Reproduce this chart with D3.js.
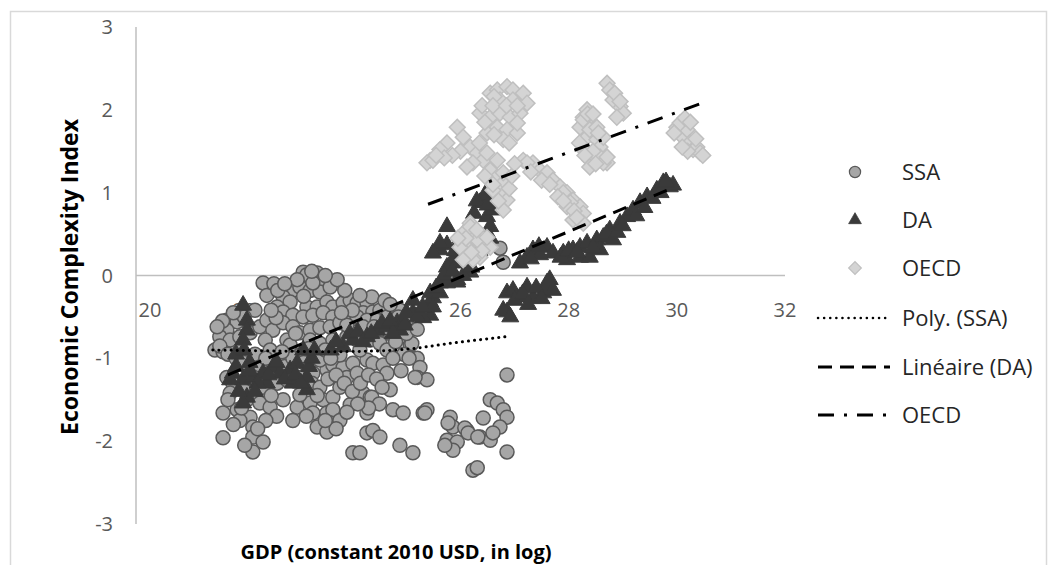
<!DOCTYPE html>
<html><head><meta charset="utf-8">
<script src="https://cdn.jsdelivr.net/npm/d3@7"></script>
<style>body{margin:0;background:#fff}svg{display:block}text{font-family:"Open Sans",Lato,sans-serif}</style>
</head><body>
<svg id="c" width="1056" height="565"></svg>
<script>
// ---- data (x = GDP log, y = ECI) ----
const xTicks = [20, 22, 24, 26, 28, 30, 32];
const yTicks = [-3, -2, -1, 0, 1, 2, 3];
const ssa = [
[22.35,-0.09],[22.42,-0.24],[23.09,0.04],[23.16,0.01],[23.35,0.03],[23.46,-0.05],[22.90,-0.18],[23.03,-0.14],[23.22,-0.18],[23.40,-0.20],[23.59,-0.14],
[22.72,-0.26],[22.85,-0.32],[23.16,-0.38],[23.35,-0.38],[23.53,-0.32],[23.64,-0.38],[22.61,-0.38],[22.72,-0.44],[22.90,-0.48],[23.09,-0.50],[23.27,-0.48],
[23.46,-0.45],[23.64,-0.50],[23.83,-0.33],[23.96,-0.30],[24.09,-0.33],[24.27,-0.33],[24.36,-0.26],[24.20,-0.45],[24.38,-0.44],[24.51,-0.42],
[21.68,-0.54],[21.87,-0.56],[21.68,-0.66],[21.55,-0.74],[21.74,-0.78],[21.92,-0.74],[22.11,-0.69],[22.29,-0.62],[22.42,-0.54],[22.53,-0.66],[21.46,-0.90],
[21.61,-0.92],[22.39,-0.78],[22.48,-0.90],[22.72,-0.57],[22.90,-0.62],[23.03,-0.69],[23.22,-0.66],[23.40,-0.63],[23.59,-0.62],[23.77,-0.57],[23.96,-0.54],
[24.09,-0.50],[24.27,-0.54],[24.46,-0.54],[24.64,-0.50],[24.83,-0.57],[22.79,-0.78],[23.22,-0.78],[23.40,-0.82],[23.64,-0.78],[23.90,-0.74],[24.09,-0.78],
[24.33,-0.78],[24.51,-0.82],[24.64,-0.90],[25.07,-0.84],[25.20,-1.00],[25.25,-1.11],[25.20,-1.23],[25.38,-1.26],[21.68,-1.23],[21.79,-1.30],[21.98,-1.35],
[22.16,-1.26],[22.35,-1.35],[22.61,-1.30],[22.79,-1.26],[23.03,-1.23],[23.27,-1.18],[23.53,-1.14],[23.64,-1.08],[23.83,-1.11],[24.01,-1.06],[24.27,-1.02],
[24.38,-1.06],[24.57,-1.08],[24.64,-1.18],[21.74,-1.42],[22.05,-1.50],[22.29,-1.54],[22.48,-1.59],[22.72,-1.50],[22.98,-1.59],[23.22,-1.54],[23.46,-1.50],
[23.64,-1.47],[23.77,-1.35],[23.90,-1.23],[24.09,-1.18],[24.20,-1.42],[24.33,-1.47],[21.61,-1.66],[21.87,-1.62],[22.11,-1.71],[22.16,-1.83],[23.27,-1.66],
[23.53,-1.66],[23.64,-1.62],[23.35,-1.83],[23.59,-1.78],[23.53,-1.89],[21.61,-1.96],[22.16,-1.95],[22.35,-2.01],[22.16,-2.13],[24.27,-1.66],[24.27,-1.90],
[24.38,-1.87],[24.51,-1.95],[24.01,-2.14],[24.14,-2.14],[24.75,-1.62],[24.94,-1.66],[24.88,-2.05],[25.12,-2.14],[25.31,-1.66],[25.38,-1.62],[25.81,-1.71],
[25.86,-1.83],[25.75,-1.99],[25.94,-2.01],[25.86,-2.11],[26.12,-1.87],[26.36,-1.95],[26.55,-1.99],[26.42,-1.72],[26.55,-1.50],[26.68,-1.54],[26.79,-1.62],
[26.86,-1.71],[26.73,-1.83],[26.60,-1.90],[26.86,-1.20],[26.86,-2.13],[26.23,-2.35],[26.31,-2.32],[26.73,0.33],[26.79,0.16],
[25.10,-0.82],[24.36,-1.47],[25.34,-1.66],[26.08,-1.84],[26.14,-1.90],[26.32,-1.95],[25.71,-2.05],[25.77,-1.78],[25.16,-1.23],
[21.92,-0.90],[22.11,-1.02],[22.66,-1.02],[23.03,-0.96],[23.40,-1.02],[23.77,-0.96],[24.14,-0.90],[22.85,-0.84],[22.29,-1.08],[23.03,-1.44],[21.92,-1.75],
[22.01,-2.05],[23.77,-1.75],[23.96,-1.56],[24.70,-1.38],[24.79,-0.66],[24.88,-0.42],[24.60,-0.30],[24.14,-0.24],[23.86,-0.18],[23.72,-0.05],[23.27,-0.09],
[22.98,-0.05],[22.59,-0.51],
[22.55,-0.10],[22.62,-0.18],[22.50,-0.42],[22.20,-0.42],[22.00,-0.50],[21.80,-0.45],[21.60,-0.55],[21.50,-0.62],[21.55,-0.85],[21.70,-0.95],[21.85,-1.00],
[22.00,-1.05],[22.20,-0.95],[22.40,-1.00],[22.55,-1.15],[22.75,-1.10],[22.90,-1.00],[23.10,-1.05],[23.25,-1.30],[23.40,-1.35],[23.55,-1.25],[23.70,-1.20],
[23.85,-1.30],[24.00,-1.40],[24.15,-1.30],[24.30,-1.20],[24.45,-1.25],[24.55,-1.35],[24.50,-1.55],[24.30,-1.60],[24.10,-1.55],[23.90,-1.65],[23.70,-1.85],
[23.50,-1.75],[23.15,-1.70],[22.90,-1.75],[22.60,-1.70],[22.40,-1.75],[22.25,-1.85],[21.80,-1.80],[21.70,-1.50],[21.95,-1.60],[22.50,-1.45],[23.35,-1.45],
[23.90,-0.60],[24.00,-0.42],[24.20,-0.62],[24.40,-0.62],[24.55,-0.65],[24.70,-0.70],[24.80,-0.80],[25.00,-0.70],[24.95,-0.95],[24.75,-1.00],[24.90,-1.15],
[25.05,-1.00],[23.50,-0.90],[23.60,-1.00],[23.20,-0.88],[22.70,-0.92],[22.95,-0.70],[23.80,-0.45],[23.50,0.00],[23.25,0.05],[23.10,-0.25],[22.75,-0.10],
[24.70,-0.35],[24.85,-0.50],[25.00,-0.55],[25.20,-0.65]
];
const da = [
[21.98,-0.36],[22.05,-0.54],[22.05,-0.66],[21.98,-0.78],[21.79,-1.18],[21.98,-1.26],[22.16,-1.23],[22.35,-1.18],[22.53,-1.11],[22.66,-1.18],[22.85,-1.14],
[22.98,-1.06],[23.09,-0.90],[23.16,-1.23],[23.16,-1.38],[22.90,-1.30],[22.05,-1.47],[21.98,-1.54],[21.74,-1.26],[22.42,-1.30],[23.83,-0.86],[24.01,-0.78],
[24.27,-0.74],[24.46,-0.66],[24.64,-0.62],[24.83,-0.57],[24.94,-0.54],[25.12,-0.45],[24.88,-0.66],[25.44,-0.32],[25.49,-0.27],[25.44,-0.48],[25.12,-0.30],
[25.62,-0.09],[25.94,-0.08],[26.18,0.04],[25.62,0.31],[25.75,0.37],[26.86,-0.21],[26.97,-0.18],[27.10,-0.26],[27.34,-0.27],[27.53,-0.21],[27.60,-0.09],
[26.86,-0.44],[25.75,0.59],[25.62,0.39],[25.86,0.19],[26.36,0.88],[26.49,0.71],[26.60,0.79],[26.55,0.59],[25.75,-0.09],[25.94,-0.05],[27.23,-0.14],
[27.60,-0.14],[27.71,-0.18],[26.79,-0.42],[26.92,-0.50],[27.23,0.22],[27.34,0.31],[27.60,0.34],[27.71,0.27],[27.90,0.27],[27.97,0.19],[28.08,0.31],
[28.21,0.34],[28.34,0.39],[28.52,0.43],[28.64,0.46],[28.76,0.55],[28.95,0.63],[29.08,0.71],[29.19,0.79],[29.32,0.88],[29.45,0.95],[29.63,1.03],
[29.75,1.12],[29.87,1.07],[29.93,1.09],[28.21,0.22],[28.39,0.22],[28.58,0.31],[28.82,0.43],[25.49,0.27],[25.75,0.10],[25.94,0.15],[25.44,-0.21],
[25.49,-0.38],[25.62,-0.21],[25.31,-0.51],[24.97,-0.60],[26.45,0.97],[27.47,0.25],
[21.85,-1.10],[22.10,-1.15],[22.25,-1.30],[22.45,-1.20],[22.60,-1.05],[22.75,-1.25],[22.95,-1.20],[23.05,-1.30],[23.20,-1.10],[21.90,-1.40],[22.20,-1.40],
[21.85,-0.95],[22.00,-0.90],[22.10,-1.05],[23.25,-1.00],[23.30,-0.90],
[23.60,-0.90],[23.70,-0.80],[23.95,-0.70],[24.10,-0.68],[24.20,-0.80],[24.35,-0.70],[24.55,-0.58],[24.70,-0.55],[24.75,-0.70],[25.00,-0.45],[25.20,-0.50],
[25.30,-0.38],[25.55,-0.15],[25.70,0.00],[25.85,0.05],[26.05,0.00],[26.20,0.10],[25.90,0.30],[26.00,0.45],[26.10,0.55],[26.25,0.75],[26.30,0.90],
[26.50,0.85],[26.55,0.45],[26.35,0.30],
[27.10,0.15],[27.30,0.20],[27.45,0.35],[27.85,0.22],[28.00,0.30],[28.15,0.28],[28.45,0.33],[28.70,0.50],[28.90,0.52],[29.00,0.60],[29.25,0.72],
[29.40,0.82],[29.55,0.93],[29.70,1.00],[29.80,1.13],[27.00,-0.30],[27.15,-0.22],[27.40,-0.15],[27.50,-0.28],[27.65,-0.05],[27.25,-0.35]
];
const oecd = [
[26.55,2.20],[26.68,2.24],[26.86,2.28],[26.97,2.24],[27.16,2.20],[26.73,2.12],[26.97,2.12],[27.23,2.08],[26.36,1.96],[26.55,1.91],[26.73,1.96],
[26.92,1.91],[27.10,1.96],[26.68,1.79],[26.86,1.76],[27.05,1.72],[26.79,1.64],[26.49,1.72],[25.94,1.79],[26.05,1.67],[25.75,1.60],[25.62,1.52],
[25.44,1.39],[25.38,1.36],[25.49,1.39],[26.18,1.55],[26.31,1.48],[26.42,1.39],[26.23,1.36],[26.12,1.31],[26.55,1.27],[26.68,1.19],[26.79,1.12],
[26.73,1.00],[26.60,1.03],[26.86,0.91],[26.79,0.79],[27.16,1.39],[27.34,1.36],[27.47,1.27],[27.60,1.24],[27.71,1.15],[27.84,1.07],[27.97,1.00],
[28.08,0.91],[28.21,0.83],[28.27,0.75],[28.03,0.88],[28.08,0.67],[28.27,0.63],[26.18,0.63],[26.05,0.51],[26.23,0.46],[26.36,0.39],[26.12,0.34],
[26.36,0.22],[26.55,0.34],[26.23,0.19],[26.18,0.59],[26.31,0.43],[25.99,0.34],[26.49,0.46],[26.05,0.19],
[28.27,1.91],[28.34,2.00],[28.39,1.84],[28.45,1.76],[28.34,1.67],[28.52,1.64],[28.58,1.55],[28.27,1.52],[28.39,1.39],[28.58,1.43],[28.71,1.36],
[28.64,1.36],[28.21,1.79],[28.27,1.88],[28.39,1.76],[28.52,1.79],[28.64,1.67],[28.39,1.31],[28.71,1.43],[28.71,2.32],[28.76,2.24],[28.86,2.12],
[28.95,2.04],[29.01,1.96],[28.89,1.91],[28.82,2.12],
[30.00,1.79],[30.11,1.67],[30.19,1.76],[30.24,1.60],[30.30,1.52],[30.37,1.55],[30.43,1.48],[30.06,1.84],[30.48,1.45],[30.15,1.90],
[26.62,2.16],[27.05,1.84],[27.23,1.36],[27.90,1.00],[27.97,0.83],[26.68,1.39],[26.49,1.48],[26.79,1.24],
[26.40,2.05],[26.60,2.05],[26.85,2.05],[27.05,2.05],[26.45,1.85],[26.62,1.70],[26.90,1.60],[26.35,1.60],[26.00,1.50],[25.85,1.45],[25.70,1.42],
[25.55,1.45],[26.45,1.20],[26.60,1.10],[26.70,0.90],[26.90,1.05],[26.95,1.20],[27.00,1.35],[27.30,1.25],[27.50,1.15],[27.65,1.10],[27.80,0.95],
[27.90,0.90],[28.10,0.78],[28.15,0.70],[26.30,0.55],[26.10,0.45],[26.40,0.30],[26.20,0.28],[25.95,0.45],[28.35,1.95],[28.45,1.95],[28.55,1.72],
[28.45,1.50],[28.50,1.35],[28.30,1.45],[28.20,1.60],[28.85,2.20],[28.95,2.10],[30.20,1.50],[30.35,1.65],[30.10,1.55],[30.25,1.85],[29.95,1.72]
];
// trend lines
const polySSAx = [21.42, 22.5, 23.5, 24.5, 25.0, 25.8, 26.82];
const polySSAy = [-0.90, -0.91, -0.92, -0.91, -0.89, -0.82, -0.74];
const linDAx = [21.7, 29.93];
const linDAy = [-1.20, 1.06];
const trendOECDx = [25.4, 30.46];
const trendOECDy = [0.86, 2.08];
const legendLabels = ["SSA", "DA", "OECD", "Poly. (SSA)", "Linéaire (DA)", "OECD"];

// ---- drawing ----
const svg = d3.select("#c");
const x = d3.scaleLinear().domain([20, 32]).range([136, 785]);
const y = d3.scaleLinear().domain([-3, 3]).range([524, 27]);

svg.append("rect").attr("x", 10.5).attr("y", 11.5).attr("width", 1036).attr("height", 600)
  .attr("fill", "none").attr("stroke", "#D9D9D9").attr("stroke-width", 1.5);

// axes lines
svg.append("line").attr("x1", x(20)).attr("x2", x(20)).attr("y1", y(3)).attr("y2", y(-3))
  .attr("stroke", "#BFBFBF").attr("stroke-width", 1.5);
svg.append("line").attr("x1", x(20)).attr("x2", x(32)).attr("y1", y(0)).attr("y2", y(0))
  .attr("stroke", "#BFBFBF").attr("stroke-width", 1.5);

// tick labels
svg.append("g").selectAll("text").data(yTicks).join("text")
  .attr("x", 113).attr("y", d => y(d)).attr("dy", "0.35em").attr("text-anchor", "end")
  .attr("fill", "#595959").attr("font-size", 20).text(d => d);
svg.append("g").selectAll("text").data(xTicks).join("text")
  .attr("x", d => x(d) + (d === 20 ? 14 : 0)).attr("y", y(0) + 41).attr("text-anchor", "middle")
  .attr("fill", "#595959").attr("font-size", 20).text(d => d);

// titles
svg.append("text").attr("transform", "translate(78,277) rotate(-90)").attr("text-anchor", "middle")
  .attr("font-weight", "bold").attr("font-size", 23).attr("fill", "#000").text("Economic Complexity Index");
svg.append("text").attr("x", 396).attr("y", 559).attr("text-anchor", "middle")
  .attr("font-weight", "bold").attr("font-size", 20).attr("fill", "#000").text("GDP (constant 2010 USD, in log)");

const circleSym = d3.symbol().type(d3.symbolCircle).size(Math.PI * 7 * 7)();
const triSym = d3.symbol().type(d3.symbolTriangle).size(125)();
const diaSym = d3.symbol().type(d3.symbolSquare).size(125)();

const styles = {
  ssa: {path: circleSym, fill: "#A6A6A6", stroke: "#595959", sw: 1.5, rot: 0},
  da: {path: triSym, fill: "#3A3A3A", stroke: "#3A3A3A", sw: 1, rot: 0},
  oecd: {path: diaSym, fill: "#D4D4D4", stroke: "#BFBFBF", sw: 1.5, rot: 45}
};
function drawSeries(data, st) {
  svg.append("g").selectAll("path").data(data).join("path")
    .attr("d", st.path)
    .attr("transform", d => `translate(${x(d[0])},${y(d[1])}) rotate(${st.rot})`)
    .attr("fill", st.fill).attr("stroke", st.stroke).attr("stroke-width", st.sw);
}
drawSeries(ssa, styles.ssa);
drawSeries(da, styles.da);
drawSeries(oecd, styles.oecd);

// trend lines
const lineGen = d3.line().x(d => x(d[0])).y(d => y(d[1]));
const polyPts = polySSAx.map((v, i) => [v, polySSAy[i]]);
svg.append("path").attr("d", lineGen.curve(d3.curveMonotoneX)(polyPts)).attr("fill", "none")
  .attr("stroke", "#000").attr("stroke-width", 3).attr("stroke-dasharray", "0.1 6").attr("stroke-linecap", "round");
svg.append("path").attr("d", d3.line().x(d => x(d[0])).y(d => y(d[1]))(linDAx.map((v, i) => [v, linDAy[i]])))
  .attr("fill", "none").attr("stroke", "#000").attr("stroke-width", 3).attr("stroke-dasharray", "14 8");
svg.append("path").attr("d", d3.line().x(d => x(d[0])).y(d => y(d[1]))(trendOECDx.map((v, i) => [v, trendOECDy[i]])))
  .attr("fill", "none").attr("stroke", "#000").attr("stroke-width", 3).attr("stroke-dasharray", "16 10 3 10");

// legend
const lg = svg.append("g");
const ly = [172, 220, 268, 318, 367, 415];
lg.selectAll("text").data(legendLabels).join("text")
  .attr("x", 902).attr("y", (d, i) => ly[i]).attr("dy", "0.35em")
  .attr("fill", "#262626").attr("font-size", 22).text(d => d);
const mk = [styles.ssa, styles.da, styles.oecd];
mk.forEach((st, i) => {
  lg.append("path").attr("d", st.path)
    .attr("transform", `translate(855,${ly[i]}) rotate(${st.rot}) scale(${i === 1 ? 0.75 : 0.8})`)
    .attr("fill", st.fill).attr("stroke", st.stroke).attr("stroke-width", st.sw);
});
const dashes = ["0.1 6", "14 8", "16 10 3 10"];
dashes.forEach((da_, i) => {
  lg.append("line").attr("x1", 818).attr("x2", 890).attr("y1", ly[3 + i]).attr("y2", ly[3 + i])
    .attr("stroke", "#000").attr("stroke-width", i === 0 ? 2.5 : 3)
    .attr("stroke-dasharray", da_).attr("stroke-linecap", i === 0 ? "round" : "butt");
});
</script>
</body></html>
